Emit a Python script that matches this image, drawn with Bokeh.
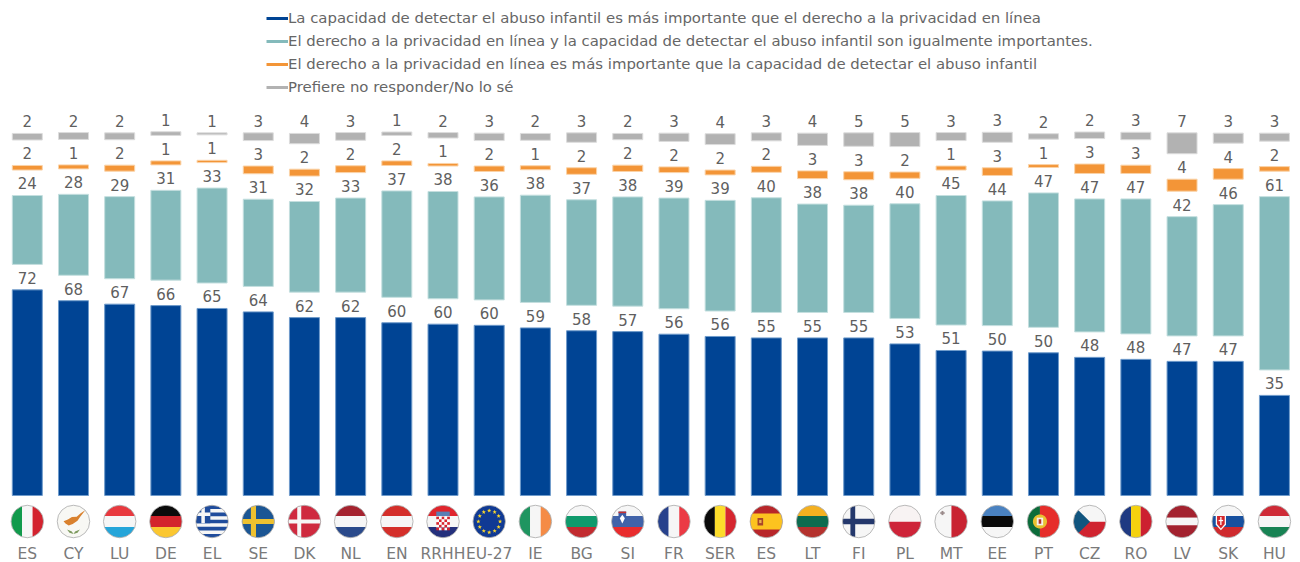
import math
import numpy as np
from bokeh.embed import file_html
from bokeh.resources import INLINE
from bokeh.plotting import figure
from bokeh.models import ColumnDataSource, Legend, LegendItem, Range1d
from bokeh.core.properties import value

countries = ["ES","CY","LU","DE","EL","SE","DK","NL","EN","RRHH","EU-27","IE","BG","SI","FR","SER","ES","LT","FI","PL","MT","EE","PT","CZ","RO","LV","SK","HU"]
flags = ["IT","CY","LU","DE","EL","SE","DK","NL","AT","HR","EU","IE","BG","SI","FR","BE","ES","LT","FI","PL","MT","EE","PT","CZ","RO","LV","SK","HU"]

detect = [71.9,68.1,66.9,66.4,65.4,64.2,62.2,62.2,60.4,59.9,59.5,58.6,57.6,57.3,56.4,55.6,55.1,55.1,55.1,53.0,50.7,50.5,49.9,48.3,47.6,46.9,46.9,35.0]
equal = [24.1,28.3,28.7,31.4,33.2,30.5,31.7,32.9,37.2,37.5,36.0,37.5,36.9,38.2,38.7,38.7,40.1,37.9,37.5,40.1,45.3,43.6,47.0,46.5,47.2,41.7,45.9,60.6]
privacy = [1.6,1.4,2.1,1.4,0.8,2.7,2.4,2.4,1.6,0.9,1.9,1.4,2.3,2.2,2.0,1.7,2.1,2.7,2.8,2.2,1.4,2.7,1.0,3.3,2.9,4.2,3.7,1.6]
noans = [2.3,2.4,2.4,1.3,0.7,2.7,3.6,2.7,1.2,1.9,2.6,2.4,3.3,2.2,2.9,3.8,2.8,4.3,4.7,4.9,2.8,3.5,1.9,2.3,2.6,7.3,3.5,2.8]

detect_labels = [72,68,67,66,65,64,62,62,60,60,60,59,58,57,56,56,55,55,55,53,51,50,50,48,48,47,47,35]
equal_labels = [24,28,29,31,33,31,32,33,37,38,36,38,37,38,39,39,40,38,38,40,45,44,47,47,47,42,46,61]
privacy_labels = [2,1,2,1,1,3,2,2,2,1,2,1,2,2,2,2,2,3,3,2,1,3,1,3,3,4,4,2]
noans_labels = [2,2,2,1,1,3,4,3,1,2,3,2,3,2,3,4,3,4,5,5,3,3,2,2,3,7,3,3]

series_names = [
    "La capacidad de detectar el abuso infantil es más importante que el derecho a la privacidad en línea",
    "El derecho a la privacidad en línea y la capacidad de detectar el abuso infantil son igualmente importantes.",
    "El derecho a la privacidad en línea es más importante que la capacidad de detectar el abuso infantil",
    "Prefiere no responder/No lo sé",
]
colors = ["#004494", "#84BABB", "#F39537", "#B2B2B2"]
edges = ["#6f9bcb", "#c4dfdf", "#fad3a8", "#dcdcdc"]

W, H = 1300, 562
PX_X, PX_Y = 46.19, 2.86      # pixels per x slot, pixels per percentage point
GAP = 8.9                     # empty space between the stacked segments, in points
BASE_PX = 495                 # baseline position from the top of the figure
x0_px = 26.8

p = figure(width=W, height=H, output_backend="svg", toolbar_location=None,
           x_range=Range1d(-x0_px / PX_X, (W - x0_px) / PX_X),
           y_range=Range1d(-(H - BASE_PX) / PX_Y, BASE_PX / PX_Y),
           min_border_left=0, min_border_right=0, min_border_top=0, min_border_bottom=0,
           outline_line_color=None, background_fill_color="white", border_fill_color="white")
p.grid.visible = False
p.yaxis.visible = False
p.xaxis.visible = False

# --- flags (drawn first, in unit-circle coordinates) ---
CIRCLE = [(math.cos(a), math.sin(a)) for a in np.linspace(0, 2 * math.pi, 72, endpoint=False)]

def clip(region):
    """Intersect the unit circle with a convex counter-clockwise region."""
    out = CIRCLE
    n = len(region)
    for i in range(n):
        ax_, ay_ = region[i]
        bx_, by_ = region[(i + 1) % n]
        side = lambda q: (bx_ - ax_) * (q[1] - ay_) - (by_ - ay_) * (q[0] - ax_)
        res = []
        for j in range(len(out)):
            c, d = out[j], out[(j + 1) % len(out)]
            sc, sd = side(c), side(d)
            if sc >= 0:
                res.append(c)
            if sc * sd < 0:
                t = sc / (sc - sd)
                res.append((c[0] + t * (d[0] - c[0]), c[1] + t * (d[1] - c[1])))
        out = res
        if not out:
            break
    return out

def R(u0, v0, u1, v1, col):
    return (clip([(u0, v0), (u1, v0), (u1, v1), (u0, v1)]), col)

def raw_rect(u0, v0, u1, v1, col):
    return ([(u0, v0), (u1, v0), (u1, v1), (u0, v1)], col)

def star(u, v, r, col):
    pts = []
    for k in range(10):
        a = math.pi / 2 + k * math.pi / 5
        rr = r if k % 2 == 0 else r * 0.42
        pts.append((u + rr * math.cos(a), v + rr * math.sin(a)))
    return (pts, col)

def hbands(top, mid, bot, a=0.34, b=-0.34):
    return [R(-1, a, 1, 1, top), R(-1, b, 1, a, mid), R(-1, -1, 1, b, bot)]

def vbands(l, m, r, a=-0.33, b=0.33):
    return [R(-1, -1, a, 1, l), R(a, -1, b, 1, m), R(b, -1, 1, 1, r)]

WHITE = "#f6f6f6"

def flag_shapes(code):
    if code == "IT":
        return vbands("#119a4c", WHITE, "#d3232f")
    if code == "CY":
        return [R(-1, -1, 1, 1, "#f8f8f4"),
                ([(-0.62, 0.02), (-0.35, 0.12), (-0.1, 0.28), (0.2, 0.3), (0.45, 0.52), (0.75, 0.72), (0.42, 0.3), (0.25, 0.05), (-0.05, -0.15), (-0.3, -0.25), (-0.5, -0.12)], "#d9812e"),
                ([(-0.4, -0.5), (-0.1, -0.62), (0.0, -0.78), (-0.25, -0.7)], "#7d9a5e"),
                ([(0.4, -0.5), (0.1, -0.62), (0.0, -0.78), (0.25, -0.7)], "#7d9a5e")]
    if code == "LU":
        return hbands("#e8393f", WHITE, "#25a5d9")
    if code == "DE":
        return hbands("#0b0b0b", "#d3232c", "#fbc730")
    if code == "EL":
        blue, out = "#1f4c9c", [R(-1, -1, 1, 1, WHITE)]
        for k in range(0, 9, 2):
            top = 1 - k * 2 / 9
            out.append(R(-1, top - 2 / 9, 1, top, blue))
        out.append(R(-1, -0.11, -0.11, 1, blue))
        out.append(R(-0.67, -0.11, -0.45, 1, WHITE))
        out.append(R(-1, 0.34, -0.11, 0.56, WHITE))
        return out
    if code == "SE":
        return [R(-1, -1, 1, 1, "#1b5694"), R(-0.46, -1, -0.14, 1, "#eec12f"), R(-1, -0.15, 1, 0.15, "#eec12f")]
    if code == "DK":
        return [R(-1, -1, 1, 1, "#cf2a3f"), R(-0.45, -1, -0.2, 1, WHITE), R(-1, -0.12, 1, 0.12, WHITE)]
    if code == "NL":
        return hbands("#a5232f", WHITE, "#2a4a8b")
    if code == "AT":
        return hbands("#d42f2a", WHITE, "#d42f2a")
    if code == "HR":
        out = hbands("#e0252d", WHITE, "#24307c")
        out.append(raw_rect(-0.42, 0.34, 0.42, 0.62, "#5a7fb5"))
        for r in range(5):
            for c in range(5):
                col = "#d9232e" if (r + c) % 2 == 0 else "#fbfbfb"
                out.append(raw_rect(-0.42 + c * 0.17, 0.3 - (r + 1) * 0.17, -0.25 + c * 0.17, 0.3 - r * 0.17, col))
        return out
    if code == "EU":
        out = [R(-1, -1, 1, 1, "#103a94")]
        for k in range(12):
            a = math.pi / 2 + k * math.pi / 6
            out.append(star(0.68 * math.cos(a), 0.68 * math.sin(a), 0.14, "#fbd72a"))
        return out
    if code == "IE":
        return vbands("#1f9560", WHITE, "#f58b46")
    if code == "BG":
        return hbands(WHITE, "#0f9a6c", "#c22b2f")
    if code == "SI":
        out = hbands(WHITE, "#4163a9", "#e92c2d")
        out.append(raw_rect(-0.58, 0.02, -0.1, 0.62, "#3d5fa8"))
        out.append(([(-0.5, 0.2), (-0.34, -0.12), (-0.18, 0.2), (-0.34, 0.42)], "#ffffff"))
        out.append(raw_rect(-0.58, 0.52, -0.1, 0.62, "#c9302e"))
        return out
    if code == "FR":
        return vbands("#27418c", WHITE, "#eb3a44")
    if code == "BE":
        return vbands("#0a0a0a", "#fcdc2b", "#d6262f")
    if code == "ES":
        out = [R(-1, -1, 1, 1, "#b8262a"), R(-1, -0.5, 1, 0.5, "#fdc31f")]
        out.append(raw_rect(-0.55, -0.25, -0.2, 0.22, "#a8452a"))
        out.append(raw_rect(-0.45, -0.1, -0.3, 0.1, "#e8b050"))
        return out
    if code == "LT":
        return hbands("#f4b020", "#0d6b4f", "#b5322e")
    if code == "FI":
        return [R(-1, -1, 1, 1, WHITE), R(-0.52, -1, -0.22, 1, "#24386c"), R(-1, -0.17, 1, 0.17, "#24386c")]
    if code == "PL":
        return [R(-1, -0.02, 1, 1, "#f8f3f3"), R(-1, -1, 1, -0.02, "#ce2439")]
    if code == "MT":
        return [R(-1, -1, 0.02, 1, WHITE), R(0.02, -1, 1, 1, "#c92332"),
                raw_rect(-0.6, 0.4, -0.48, 0.66, "#9a8a8a"), raw_rect(-0.68, 0.48, -0.4, 0.58, "#9a8a8a")]
    if code == "EE":
        return hbands("#4a82c1", "#0a0a0a", WHITE)
    if code == "PT":
        out = [R(-1, -1, -0.22, 1, "#0b6c3a"), R(-0.22, -1, 1, 1, "#e62d2a")]
        out.append(([(-0.22 + 0.44 * c, 0.44 * s) for c, s in CIRCLE], "#e8c030"))
        out.append(raw_rect(-0.42, -0.24, -0.02, 0.24, "#f4f0ea"))
        out.append(raw_rect(-0.3, -0.14, -0.14, 0.14, "#b3302a"))
        return out
    if code == "CZ":
        return [R(-1, -0.02, 1, 1, WHITE), R(-1, -1, 1, -0.02, "#d0232f"),
                (clip([(-1, -1), (0.02, -0.02), (-1, 1)]), "#11557f")]
    if code == "RO":
        return vbands("#1f3a82", "#f5d20e", "#cc2030", -0.3, 0.3)
    if code == "LV":
        return hbands("#a3222f", WHITE, "#a3222f", 0.24, -0.24)
    if code == "SK":
        out = hbands(WHITE, "#17509f", "#cf2a2e")
        out.append(([(-0.78, 0.42), (-0.14, 0.42), (-0.14, -0.2), (-0.46, -0.55), (-0.78, -0.2)], "#fbfbfb"))
        out.append(([(-0.7, 0.34), (-0.22, 0.34), (-0.22, -0.15), (-0.46, -0.44), (-0.7, -0.15)], "#d3262b"))
        out.append(raw_rect(-0.5, -0.22, -0.42, 0.28, "#ffffff"))
        out.append(raw_rect(-0.6, 0.02, -0.32, 0.1, "#ffffff"))
        return out
    if code == "HU":
        return hbands("#cf2b37", WHITE, "#188354")
    return [R(-1, -1, 1, 1, WHITE)]

FLAG_R = 16.0
FLAG_Y = -26.0 / PX_Y
fx, fy, fc = [], [], []
for i, code in enumerate(flags):
    for pts, col in flag_shapes(code):
        fx.append([i + u * FLAG_R / PX_X for u, v in pts])
        fy.append([FLAG_Y + v * FLAG_R / PX_Y for u, v in pts])
        fc.append(col)
p.patches(fx, fy, fill_color=fc, line_color=None)
p.scatter(list(range(len(flags))), [FLAG_Y] * len(flags), size=2 * FLAG_R + 0.5,
          marker="circle", fill_color=None, line_color="#a8a8a8", line_width=0.8)

# --- country labels, in the row under the flags ---
LABEL_Y = -58.0 / PX_Y
p.text(x=list(range(len(countries))), y=[LABEL_Y] * len(countries), text=countries,
       text_align="center", text_baseline="middle", text_color="#7a7a7a",
       text_font=value("DejaVu Sans"), text_font_size="15.5px")

# --- stacked bars with empty gaps ---
x = np.arange(len(countries))
bottom = np.zeros(len(countries))
all_series = [(detect, detect_labels), (equal, equal_labels), (privacy, privacy_labels), (noans, noans_labels)]
legend_items = []
for k, (vals, labels) in enumerate(all_series):
    vals = np.array(vals, dtype=float)
    top = bottom + vals
    src = ColumnDataSource(dict(x=x, bottom=bottom, top=top, label=[str(v) for v in labels]))
    p.vbar(x="x", bottom="bottom", top="top", width=30.0 / PX_X, source=src,
           fill_color=colors[k], line_color=edges[k], line_width=1)
    p.text(x="x", y="top", text="label", source=src, text_align="center", text_baseline="alphabetic",
           y_offset=-12, text_color="#5f5f5f", text_font=value("DejaVu Sans"), text_font_size="15px")
    bottom = top + GAP
    r = p.line([0, 0], [float("nan"), float("nan")], line_color=colors[k], line_width=3)
    legend_items.append(LegendItem(label=series_names[k], renderers=[r]))

legend = Legend(items=legend_items, location=(266, 465), orientation="vertical",
                padding=0, margin=0, spacing=3, label_standoff=0,
                glyph_width=22, glyph_height=20, label_height=20,
                border_line_color=None, background_fill_alpha=0,
                label_text_font="DejaVu Sans", label_text_font_size="14.9px", label_text_color="#666666")
p.add_layout(legend, "center")

open("out.html", "w").write(file_html(p, INLINE))
